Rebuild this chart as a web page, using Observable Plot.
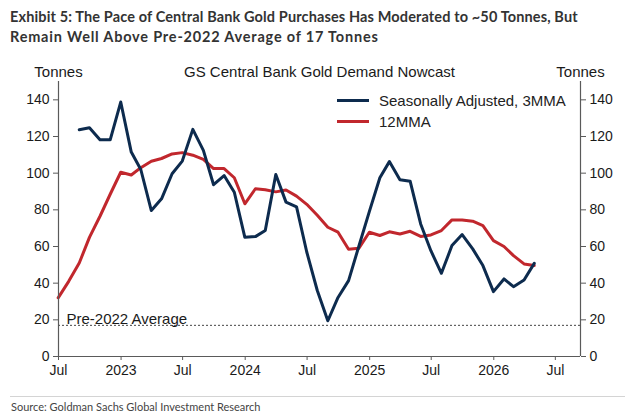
<!DOCTYPE html>
<html>
<head>
<meta charset="utf-8">
<script src="https://cdn.jsdelivr.net/npm/d3@7"></script>
<script src="https://cdn.jsdelivr.net/npm/@observablehq/plot@0.6"></script>
<style>
  html, body { margin: 0; padding: 0; background: #fff; }
  #wrap { position: relative; width: 630px; height: 415px; background: #fff; overflow: hidden; }
  .heading { position: absolute; left: 10px; font-family: Lato, "Noto Sans", sans-serif; font-weight: 700; font-size: 14.5px; line-height: 20px; color: #333; white-space: nowrap; }
  #chart { position: absolute; left: 0; top: 52px; }
  .legend { position: absolute; left: 337px; font-family: "Liberation Sans", Arial, sans-serif; font-size: 15px; color: #222; display: flex; align-items: center; }
  .legend .sw { width: 32px; height: 3px; margin-right: 10px; }
  .rule { position: absolute; left: 10px; width: 615px; top: 396px; border-top: 1px solid #d4d4d4; }
  .source { position: absolute; left: 11px; top: 400px; font-family: Lato, "Noto Sans", sans-serif; font-size: 11px; color: #444; }
</style>
</head>
<body>
<div id="wrap">
  <div class="heading" style="top:7px; letter-spacing:0.13px">Exhibit 5: The Pace of Central Bank Gold Purchases Has Moderated to ~50 Tonnes, But</div>
  <div class="heading" style="top:27px; letter-spacing:0.8px">Remain Well Above Pre-2022 Average of 17 Tonnes</div>
  <div id="chart"></div>
  <div class="legend" style="top:92px"><span class="sw" style="background:#0d2b4e"></span>Seasonally Adjusted, 3MMA</div>
  <div class="legend" style="top:113px"><span class="sw" style="background:#c1272d"></span>12MMA</div>
  <div class="rule"></div>
  <div class="source">Source: Goldman Sachs Global Investment Research</div>
</div>
<script>
// Monthly observations (plotted at each month's end)
const months = [
  "2022-06", "2022-07", "2022-08", "2022-09", "2022-10", "2022-11", "2022-12",
  "2023-01", "2023-02", "2023-03", "2023-04", "2023-05", "2023-06",
  "2023-07", "2023-08", "2023-09", "2023-10", "2023-11", "2023-12",
  "2024-01", "2024-02", "2024-03", "2024-04", "2024-05", "2024-06",
  "2024-07", "2024-08", "2024-09", "2024-10", "2024-11", "2024-12",
  "2025-01", "2025-02", "2025-03", "2025-04", "2025-05", "2025-06",
  "2025-07", "2025-08", "2025-09", "2025-10", "2025-11", "2025-12",
  "2026-01", "2026-02", "2026-03", "2026-04"
];

// 12-month moving average, tonnes (covers every month above)
const ma12 = [
  32, 41, 51, 65, 76.5, 88.5, 100.5,
  99, 103, 106.5, 108, 110.5, 111.2,
  109.8, 107.5, 102.5, 102.5, 97.5, 83.3,
  91.5, 91, 89.8, 90.8, 87.5, 83,
  77, 70.5, 67.8, 58.5, 59, 67.8,
  66, 68, 66.8, 68.3, 65.5, 66.3,
  68.7, 74.5, 74.5, 73.8, 71.4, 63.2,
  60, 55, 50.5, 49.6
];

// Seasonally adjusted 3-month moving average, tonnes (starts 2022-08)
const sa3Start = "2022-08";
const sa3 = [
  123.7, 124.8, 118.2, 118.2, 138.8,
  111.5, 102, 79.6, 86, 99.7, 106.6,
  123.9, 112.4, 93.7, 98.7, 89.6, 65,
  65.4, 68.7, 99.3, 84.2, 81.6, 57,
  36, 19.5, 32.2, 41.4, 60, 79,
  97.5, 106.3, 96.4, 95.6, 72.3, 57.7,
  45.4, 60.5, 66.5, 58.7, 49.6, 35.4,
  42.3, 38.1, 41.7, 50.8
];

const preAverage = 17;
const yTicks = [0, 20, 40, 60, 80, 100, 120, 140];
const xStart = new Date(Date.UTC(2022, 6, 1));
const xEnd = new Date(Date.UTC(2026, 8, 13));
const xTicks = d3.utcMonth.every(6).range(xStart, xEnd);

const parseMonth = d3.utcParse("%Y-%m");
const monthEnd = (s) => d3.utcDay.offset(d3.utcMonth.offset(parseMonth(s), 1), -1);

const red = months.map((m, i) => ({date: monthEnd(m), value: ma12[i]}));
const offset = months.indexOf(sa3Start);
const blue = sa3.map((v, i) => ({date: monthEnd(months[offset + i]), value: v}));

const tickFormat = (d) => d.getUTCMonth() === 0 ? String(d.getUTCFullYear()) : "Jul";
const axisColor = "#5a5a5a";

const chart = Plot.plot({
  width: 630,
  height: 340,
  marginTop: 29,
  marginBottom: 36,
  marginLeft: 58,
  marginRight: 50,
  style: {fontFamily: "'Liberation Sans', Arial, sans-serif", fontSize: "14px", color: "#1a1a1a", background: "#fff"},
  x: {type: "utc", domain: [xStart, xEnd]},
  y: {domain: [0, 150]},
  marks: [
    Plot.ruleY([preAverage], {stroke: "#444", strokeWidth: 1, strokeDasharray: "2,2"}),
    Plot.text([preAverage], {y: (d) => d, text: () => "Pre-2022 Average", frameAnchor: "left", textAnchor: "start", lineAnchor: "bottom", dx: 8, dy: -1, fontSize: 15, fill: "#1a1a1a"}),
    Plot.line(red, {x: "date", y: "value", stroke: "#c1272d", strokeWidth: 3}),
    Plot.line(blue, {x: "date", y: "value", stroke: "#0d2b4e", strokeWidth: 3}),
    Plot.ruleX([xStart, xEnd], {stroke: axisColor, strokeWidth: 1.2}),
    Plot.ruleY([0], {stroke: axisColor, strokeWidth: 1.2}),
    Plot.axisY({anchor: "left", ticks: yTicks, tickSize: 5, tickPadding: 4, label: null, stroke: axisColor, fontSize: 14}),
    Plot.axisY({anchor: "right", ticks: yTicks, tickSize: 5, tickPadding: 4, label: null, stroke: axisColor, fontSize: 14}),
    Plot.axisX({ticks: xTicks, tickFormat, tickSize: 4, tickPadding: 5, label: null, stroke: axisColor, fontSize: 14}),
    Plot.text(["Tonnes"], {frameAnchor: "top-left", textAnchor: "middle", dy: -15, fontSize: 15, fill: "#1a1a1a"}),
    Plot.text(["Tonnes"], {frameAnchor: "top-right", textAnchor: "middle", dy: -15, fontSize: 15, fill: "#1a1a1a"}),
    Plot.text(["GS Central Bank Gold Demand Nowcast"], {frameAnchor: "top", textAnchor: "middle", dy: -15, fontSize: 15, fill: "#1a1a1a"})
  ]
});
document.getElementById("chart").appendChild(chart);
</script>
</body>
</html>
